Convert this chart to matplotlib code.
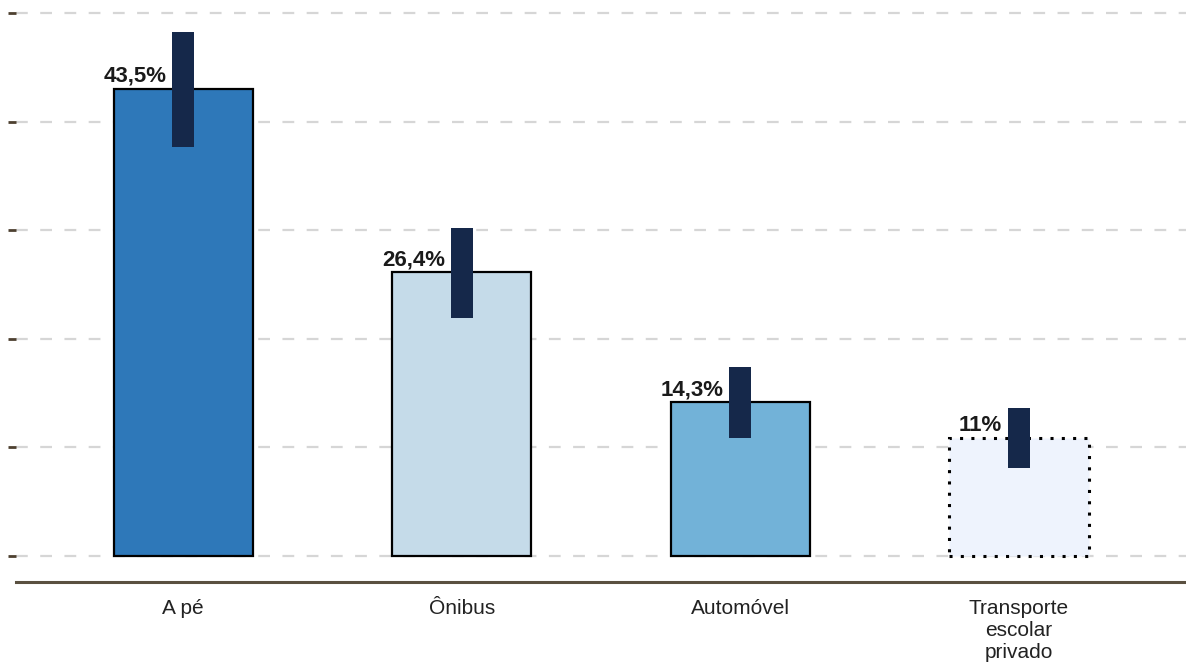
import numpy as np
import matplotlib.pyplot as plt

plt.rcParams['font.family'] = ['Liberation Sans', 'DejaVu Sans']

categories = ['A pé', 'Ônibus', 'Automóvel', 'Transporte\nescolar\nprivado']
values = [43.5, 26.4, 14.3, 11.0]
labels = ['43,5%', '26,4%', '14,3%', '11%']
ci_low = [38.1, 22.2, 11.0, 8.2]
ci_high = [48.8, 30.5, 17.6, 13.8]
colors = ['#2e78b9', '#c5dbe9', '#72b2d8', '#eef3fd']
edge_styles = ['solid', 'solid', 'solid', (0, (1, 2.7))]
edge_widths = [1.6, 1.6, 1.6, 2.2]

fig = plt.figure(figsize=(11.86, 6.64), dpi=100)
ax = fig.add_axes([16/1186, 82/664, 1170/1186, 582/664])

x = np.arange(len(categories))

# grid behind everything
grid_ticks = np.linspace(0, 50.56, 6)
ax.set_yticks(grid_ticks)
ax.set_yticklabels([])
ax.grid(axis='y', color='#d6d6d6', linewidth=1.6, linestyle=(0, (5.3, 5.6)), zorder=0)
ax.set_axisbelow(True)

for i in range(len(categories)):
    ax.bar(x[i], values[i], width=0.5, color=colors[i], edgecolor='black',
           linewidth=edge_widths[i], linestyle=edge_styles[i], zorder=2)

# confidence intervals as thick boxes
ax.bar(x, np.array(ci_high) - np.array(ci_low), bottom=ci_low, width=0.08,
       color='#15284a', zorder=3)

for i in range(len(categories)):
    ax.text(x[i] - 0.06, values[i] + 0.2, labels[i], ha='right', va='bottom',
            fontsize=16, fontweight='bold', color='#1a1a1a', zorder=4)

ax.set_xlim(-0.6, 3.6)
ax.set_ylim(-2.42, 51.77)
ax.set_xticks(x)
ax.set_xticklabels(categories, fontsize=15, color='#222222', linespacing=1.2)
ax.tick_params(axis='x', length=0, pad=12)
ax.tick_params(axis='y', length=6, width=2, color='#4d4030', direction='out')

for s in ['top', 'right', 'left']:
    ax.spines[s].set_visible(False)
ax.spines['bottom'].set_color('#5a5040')
ax.spines['bottom'].set_linewidth(2.2)

fig.savefig('out.png', dpi=100)
